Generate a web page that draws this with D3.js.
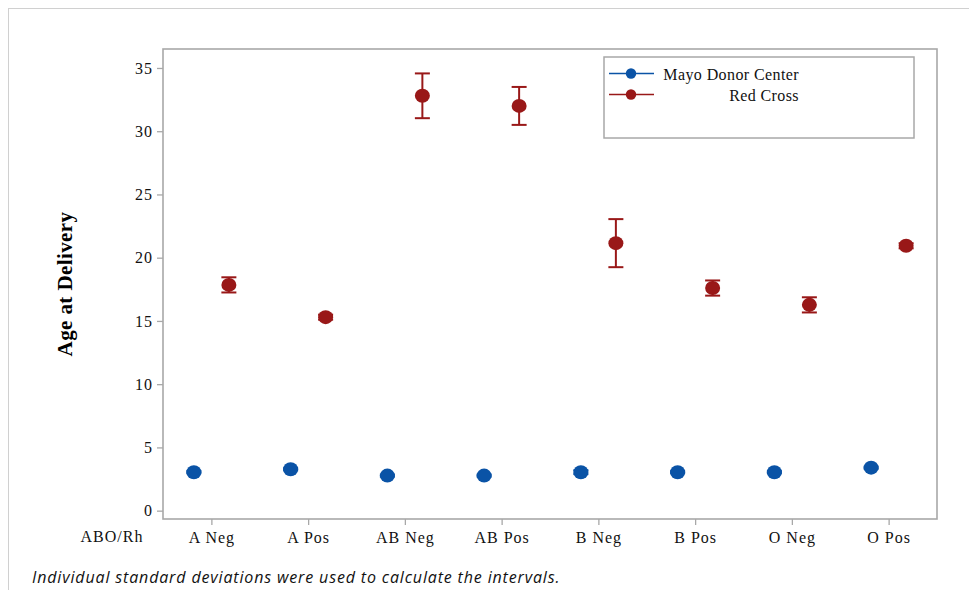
<!DOCTYPE html>
<html>
<head>
<meta charset="utf-8">
<script src="https://cdn.jsdelivr.net/npm/d3@7"></script>
<style>
  html, body { margin: 0; padding: 0; background: #fff; }
  svg { display: block; }
</style>
</head>
<body>
<svg id="chart" width="969" height="590"></svg>
<script>
// ABO/Rh groups shown along the x axis
const categories = ["A Neg", "A Pos", "AB Neg", "AB Pos", "B Neg", "B Pos", "O Neg", "O Pos"];
const seriesNames = ["Mayo Donor Center", "Red Cross"];
// Mean age at delivery (days) per group
const mayoMean = [3.04, 3.27, 2.77, 2.77, 3.04, 3.04, 3.04, 3.40];
const mayoSD = [0.08, 0.08, 0.08, 0.08, 0.15, 0.08, 0.08, 0.08];
const redMean = [17.85, 15.3, 32.8, 32.0, 21.15, 17.6, 16.27, 20.94];
const redSD = [0.6, 0.2, 1.77, 1.5, 1.9, 0.6, 0.6, 0.2];
const yTicks = [0, 5, 10, 15, 20, 25, 30, 35];

const colors = { "Mayo Donor Center": "#0A53A6", "Red Cross": "#991818" };
const series = [
  { name: seriesNames[0], mean: mayoMean, sd: mayoSD, offset: -17.5 },
  { name: seriesNames[1], mean: redMean, sd: redSD, offset: 17.5 }
];

const svg = d3.select("#chart");
const plot = { left: 163, right: 937, top: 49, bottom: 519 };

// outer frame
svg.append("rect")
  .attr("x", 8.5).attr("y", 8.5).attr("width", 980).attr("height", 600)
  .attr("fill", "none").attr("stroke", "#d0d0d0").attr("stroke-width", 1);

const x = d3.scalePoint().domain(categories).range([plot.left, plot.right]).padding(0.5);
const y = d3.scaleLinear().domain([-0.66, 36.5]).range([plot.bottom, plot.top]);

// plot frame
svg.append("rect")
  .attr("x", plot.left).attr("y", plot.top)
  .attr("width", plot.right - plot.left).attr("height", plot.bottom - plot.top)
  .attr("fill", "none").attr("stroke", "#a8a8a8").attr("stroke-width", 1.6);

// y axis
const yAxis = svg.append("g")
  .attr("transform", `translate(${plot.left},0)`)
  .call(d3.axisLeft(y).tickValues(yTicks).tickSize(6).tickPadding(4));
yAxis.select(".domain").remove();
yAxis.selectAll(".tick line").attr("stroke", "#a8a8a8").attr("stroke-width", 1.3);
yAxis.selectAll(".tick text")
  .attr("fill", "#111")
  .style("font-family", "'Liberation Serif', 'Times New Roman', serif")
  .style("font-size", "16px")
  .style("letter-spacing", "1px");

// x axis
const xAxis = svg.append("g")
  .attr("transform", `translate(0,${plot.bottom})`)
  .call(d3.axisBottom(x).tickSize(6).tickPadding(7));
xAxis.select(".domain").remove();
xAxis.selectAll(".tick line").attr("stroke", "#a8a8a8").attr("stroke-width", 1.3);
xAxis.selectAll(".tick text")
  .attr("fill", "#111")
  .style("font-family", "'Liberation Serif', 'Times New Roman', serif")
  .style("font-size", "16px")
  .style("letter-spacing", "1px");

svg.append("text")
  .attr("x", 112).attr("y", 542)
  .attr("text-anchor", "middle")
  .attr("fill", "#111")
  .style("font-family", "'Liberation Serif', 'Times New Roman', serif")
  .style("font-size", "16px")
  .style("letter-spacing", "1px")
  .text("ABO/Rh");

// y axis title
svg.append("text")
  .attr("transform", "translate(72,284) rotate(-90)")
  .attr("text-anchor", "middle")
  .attr("fill", "#000")
  .style("font-family", "'Liberation Serif', 'Times New Roman', serif")
  .style("font-weight", "bold")
  .style("font-size", "21px")
  .style("letter-spacing", "0.4px")
  .text("Age at Delivery");

// error bars and means
series.forEach(s => {
  const g = svg.append("g");
  const data = categories.map((c, i) => ({ c, m: s.mean[i], sd: s.sd[i] }));
  const cx = d => x(d.c) + s.offset;
  const col = colors[s.name];
  g.selectAll("line.v").data(data).join("line")
    .attr("x1", cx).attr("x2", cx)
    .attr("y1", d => y(d.m - d.sd)).attr("y2", d => y(d.m + d.sd))
    .attr("stroke", col).attr("stroke-width", 2);
  [-1, 1].forEach(k => {
    g.selectAll("line.c" + (k + 1)).data(data).join("line")
      .attr("x1", d => cx(d) - 7.5).attr("x2", d => cx(d) + 7.5)
      .attr("y1", d => y(d.m + k * d.sd)).attr("y2", d => y(d.m + k * d.sd))
      .attr("stroke", col).attr("stroke-width", 2);
  });
  g.selectAll("ellipse").data(data).join("ellipse")
    .attr("cx", cx).attr("cy", d => y(d.m))
    .attr("rx", 7.5).attr("ry", 7)
    .attr("fill", col);
});

// legend
const legend = svg.append("g");
legend.append("rect")
  .attr("x", 604).attr("y", 57).attr("width", 310).attr("height", 81)
  .attr("fill", "#fff").attr("stroke", "#a8a8a8").attr("stroke-width", 1.5);
series.forEach((s, i) => {
  const ly = 73.5 + i * 21;
  legend.append("line")
    .attr("x1", 609).attr("x2", 654).attr("y1", ly).attr("y2", ly)
    .attr("stroke", colors[s.name]).attr("stroke-width", 1.6);
  legend.append("circle")
    .attr("cx", 631).attr("cy", ly).attr("r", 5.2)
    .attr("fill", colors[s.name]);
  legend.append("text")
    .attr("x", 799).attr("y", ly + 6)
    .attr("text-anchor", "end")
    .attr("fill", "#111")
    .style("font-family", "'Liberation Serif', 'Times New Roman', serif")
    .style("font-size", "16px")
    .style("letter-spacing", "0.4px")
    .text(s.name);
});

// footnote
svg.append("text")
  .attr("x", 32).attr("y", 583)
  .attr("fill", "#111")
  .style("font-family", "'Open Sans', 'Noto Sans', sans-serif")
  .style("font-style", "italic")
  .style("font-size", "16px")
  .style("letter-spacing", "0.85px")
  .text("Individual standard deviations were used to calculate the intervals.");
</script>
</body>
</html>
